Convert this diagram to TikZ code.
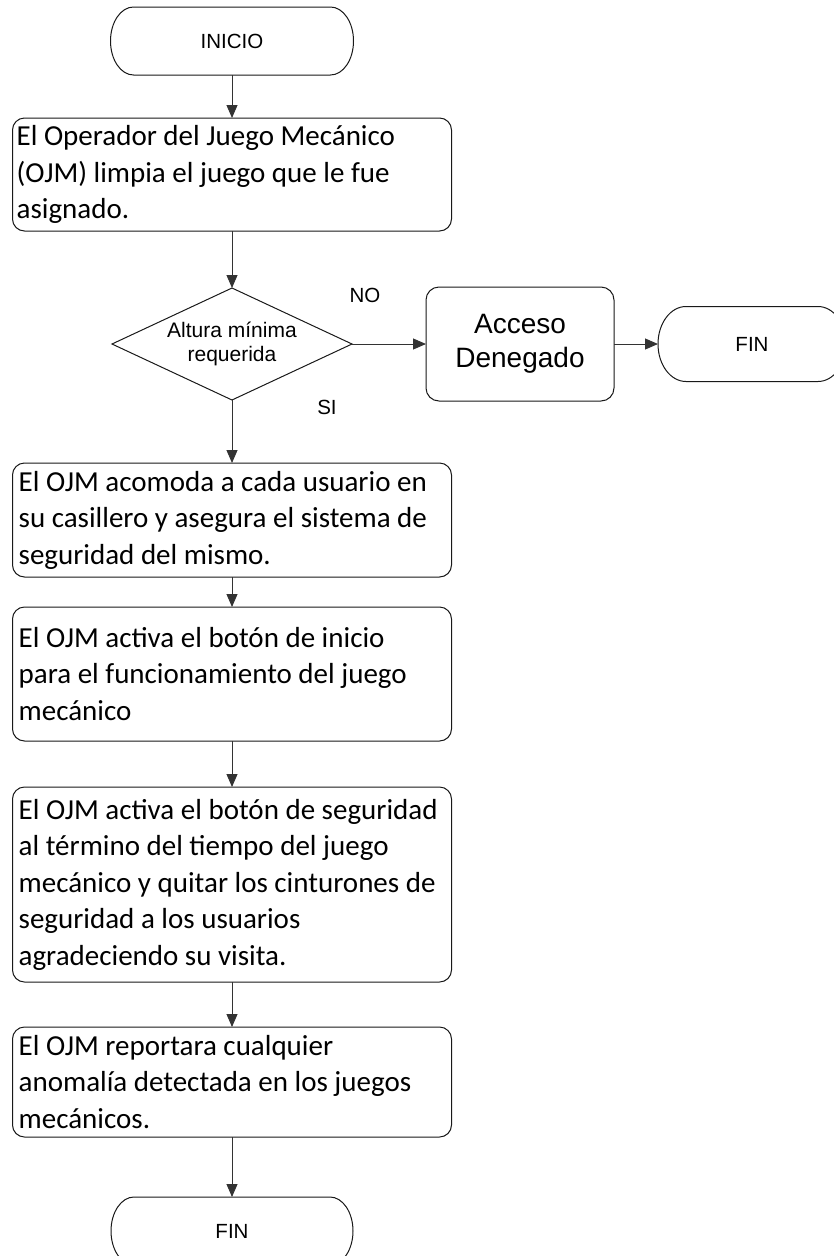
\documentclass[tikz,border=0pt]{standalone}
\usepackage{fontspec}
\setmainfont{Carlito}
\newfontfamily\arialf{Liberation Sans}
\usetikzlibrary{arrows.meta,shapes.geometric,calc}
\newcommand\pilldraw[3]{%
  \draw[shapeline] ($(#1.north west)+(#2,0)$) -- ($(#1.north east)+(-#2,0)$)
    .. controls ($(#1.north east)+(-0.4477*#2,0)$) and ($(#1.east)+(0,-0.5523*#3)$) .. (#1.east)
    .. controls ($(#1.east)+(0,0.5523*#3)$) and ($(#1.south east)+(-0.4477*#2,0)$) .. ($(#1.south east)+(-#2,0)$)
    -- ($(#1.south west)+(#2,0)$)
    .. controls ($(#1.south west)+(0.4477*#2,0)$) and ($(#1.west)+(0,0.5523*#3)$) .. (#1.west)
    .. controls ($(#1.west)+(0,-0.5523*#3)$) and ($(#1.north west)+(0.4477*#2,0)$) .. ($(#1.north west)+(#2,0)$)
    -- cycle;}
\begin{document}
\begin{tikzpicture}[x=1pt,y=-1pt,
  shapeline/.style={draw=black!90, line width=1pt},
  stepbox/.style={shapeline, rounded corners=12pt, minimum width=439pt, inner sep=0pt, outer sep=0pt},
  boxtext/.style={anchor=west, align=left, inner sep=0pt, font=\fontsize{29}{36.5}\selectfont},
  pill/.style={inner sep=0pt, outer sep=0pt, font=\arialf\fontsize{20.5}{24}\selectfont},
  decision/.style={shape=diamond, shapeline, minimum width=240pt, minimum height=112pt, aspect=2.14, inner sep=0pt, outer sep=0pt, align=center, font=\arialf\fontsize{21}{23.5}\selectfont},
  conn/.style={draw=black!80, line width=1pt, -{Triangle[length=13pt,width=11pt]}},
  lbl/.style={font=\arialf\fontsize{20.5}{24}\selectfont, inner sep=0pt},
]
\useasboundingbox (0,0) rectangle (834,1256);
\fill[white] (0,0) rectangle (834,1256);
\clip (0,0) rectangle (834,1256);

% terminals
\node[pill, minimum width=243pt, minimum height=68pt] (start) at (232,41) {INICIO};
\pilldraw{start}{23}{34}

% step 1
\node[stepbox, minimum height=113pt] (b1) at (232,174.5) {};
\node[boxtext] (t1) at ($(b1.west)+(4,0)$) {El Operador del Juego Mecánico\\(OJM) limpia el juego que le fue\\asignado.};

% decision
\node[decision] (dec) at (232,344) {Altura mínima\\requerida};

% access denied
\node[shapeline, rounded corners=13pt, minimum width=188pt, minimum height=114pt, inner sep=0pt, outer sep=0pt, align=center, font=\arialf\fontsize{28}{34}\selectfont] (acc) at (520,344) {Acceso\\Denegado};

\node[pill, minimum width=188pt, minimum height=75pt] (fin1) at (752,344) {FIN};
\pilldraw{fin1}{28}{37.5}

% step 2
\node[stepbox, minimum height=114pt] (b2) at (232,520) {};
\node[boxtext] (t2) at ($(b2.west)+(6,0)$) {El OJM acomoda a cada usuario en\\su casillero y asegura el sistema de\\seguridad del mismo.};

% step 3
\node[stepbox, minimum height=134pt] (b3) at (232,674) {};
\node[boxtext] (t3) at ($(b3.west)+(6,0)$) {El OJM activa el botón de inicio\\para el funcionamiento del juego\\mecánico};

% step 4
\node[stepbox, minimum height=195pt] (b4) at (232,884.5) {};
\node[boxtext] (t4) at ($(b4.west)+(6,0)$) {El OJM activa el botón de seguridad\\al término del tiempo del juego\\mecánico y quitar los cinturones de\\seguridad a los usuarios\\agradeciendo su visita.};

% step 5
\node[stepbox, minimum height=110pt] (b5) at (232,1082) {};
\node[boxtext] (t5) at ($(b5.west)+(6,0)$) {El OJM reportara cualquier\\anomalía detectada en los juegos\\mecánicos.};

\node[pill, minimum width=242pt, minimum height=68pt] (fin2) at (232,1231) {FIN};
\pilldraw{fin2}{23}{34}

% labels
\node[lbl] (lno) at (365,295) {NO};
\node[lbl] (lsi) at (327,407) {SI};

% connectors
\draw[conn] (start) -- (b1);
\draw[conn] (b1) -- (dec);
\draw[conn] (dec) -- (acc);
\draw[conn] (acc) -- (fin1);
\draw[conn] (dec) -- (b2);
\draw[conn] (b2) -- (b3);
\draw[conn] (b3) -- (b4);
\draw[conn] (b4) -- (b5);
\draw[conn] (b5) -- (fin2);
\end{tikzpicture}
\end{document}
